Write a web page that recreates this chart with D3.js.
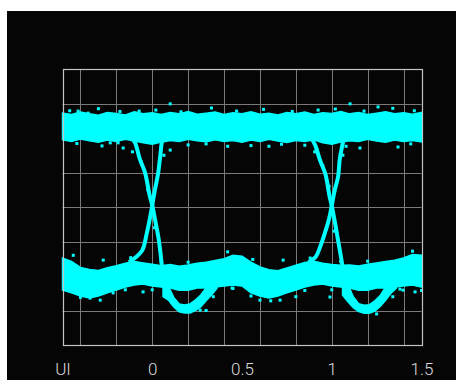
<!DOCTYPE html>
<html><head><meta charset="utf-8">
<script src="https://cdn.jsdelivr.net/npm/d3@7"></script>
<style>html,body{margin:0;padding:0;background:#fff;}svg{display:block;}</style>
</head><body>
<svg id="c" width="456" height="380"></svg>
<script>
// ---- data (UI on x, volts on y) ----
const tickValues = [-0.5, 0, 0.5, 1, 1.5];
const tickLabels = ["UI", "0", "0.5", "1", "1.5"];
const gridX = [-0.4, -0.2, 0, 0.2, 0.4, 0.6, 0.8, 1.0, 1.2, 1.4];
const gridY = [-0.3, -0.2, -0.1, 0, 0.1, 0.2, 0.3];

const bandX = [-0.5,-0.45,-0.4,-0.35,-0.3,-0.25,-0.2,-0.15,-0.1,-0.05,0,0.05,0.1,0.15,0.2,0.25,0.3,0.35,0.4,0.45,0.5,
               0.55,0.6,0.65,0.7,0.75,0.8,0.85,0.9,0.95,1.0,1.05,1.1,1.15,1.2,1.25,1.3,1.35,1.4,1.45,1.5];
const upperTop = [0.272,0.268,0.275,0.27,0.266,0.274,0.271,0.267,0.276,0.27,0.273,0.268,0.274,0.27,0.277,0.269,0.272,0.275,0.268,0.273,0.27,
                  0.276,0.269,0.272,0.267,0.274,0.27,0.275,0.268,0.273,0.271,0.277,0.27,0.274,0.268,0.272,0.276,0.27,0.273,0.269,0.274];
const upperBottom = [0.195,0.19,0.197,0.192,0.188,0.194,0.19,0.196,0.191,0.186,0.182,0.188,0.193,0.19,0.196,0.192,0.189,0.195,0.19,0.193,0.188,
                     0.194,0.19,0.196,0.191,0.187,0.193,0.19,0.195,0.186,0.182,0.188,0.192,0.19,0.196,0.191,0.188,0.194,0.19,0.193,0.189];
const lowerTop = [-0.148,-0.158,-0.175,-0.181,-0.184,-0.176,-0.17,-0.163,-0.158,-0.162,-0.166,-0.17,-0.167,-0.172,-0.168,-0.163,-0.16,-0.155,-0.15,-0.14,-0.143,
                  -0.16,-0.174,-0.182,-0.185,-0.177,-0.169,-0.161,-0.157,-0.163,-0.167,-0.169,-0.168,-0.171,-0.166,-0.162,-0.158,-0.154,-0.148,-0.138,-0.14];
const lowerBottom = [-0.241,-0.249,-0.258,-0.264,-0.258,-0.249,-0.241,-0.232,-0.226,-0.223,-0.229,-0.232,-0.235,-0.241,-0.241,-0.235,-0.235,-0.232,-0.229,-0.226,-0.229,
                     -0.249,-0.258,-0.264,-0.258,-0.249,-0.241,-0.232,-0.226,-0.223,-0.229,-0.232,-0.235,-0.241,-0.241,-0.235,-0.235,-0.232,-0.229,-0.226,-0.232];

const falling1 = [[-0.115,0.2],[-0.095,0.185],[-0.07,0.14],[-0.04,0.099],[-0.015,0.035],[0,0.005],[0.017,-0.04],[0.035,-0.09],[0.045,-0.13],[0.055,-0.175],[0.07,-0.22],[0.09,-0.255],[0.115,-0.28]];
const rising1  = [[-0.13,-0.16],[-0.09,-0.145],[-0.055,-0.125],[-0.03,-0.075],[-0.012,-0.03],[0,0.005],[0.015,0.05],[0.033,0.099],[0.045,0.15],[0.055,0.19],[0.07,0.205]];
const falling2 = [[0.885,0.2],[0.907,0.18],[0.935,0.135],[0.965,0.095],[0.988,0.03],[1.0,0.003],[1.018,-0.045],[1.035,-0.096],[1.05,-0.14],[1.065,-0.185],[1.085,-0.22],[1.105,-0.255],[1.125,-0.28]];
const rising2  = [[0.87,-0.16],[0.91,-0.145],[0.935,-0.116],[0.965,-0.07],[0.988,-0.028],[1.0,0.004],[1.017,0.05],[1.035,0.087],[1.045,0.14],[1.057,0.174],[1.07,0.205]];

const dip1X = [0.06,0.09,0.12,0.15,0.18,0.21,0.24,0.27,0.3,0.33,0.36];
const dip1Top = [-0.2,-0.23,-0.262,-0.281,-0.284,-0.281,-0.27,-0.255,-0.235,-0.215,-0.2];
const dip1Bottom = [-0.26,-0.27,-0.29,-0.304,-0.307,-0.307,-0.3,-0.29,-0.272,-0.255,-0.236];
const dip2X = [1.06,1.09,1.12,1.15,1.18,1.21,1.24,1.27,1.3,1.33,1.36];
const dip2Top = [-0.2,-0.228,-0.26,-0.28,-0.285,-0.283,-0.272,-0.257,-0.232,-0.212,-0.2];
const dip2Bottom = [-0.255,-0.275,-0.292,-0.303,-0.308,-0.308,-0.302,-0.288,-0.27,-0.25,-0.235];

const strayDots = [[0.1,0.299],[1.102,0.299],[1.258,0.29],[-0.073,0.278],[-0.413,0.278],[-0.357,0.272],[0.924,0.281],
  [-0.234,0.186],[-0.19,0.186],[-0.162,0.171],[0.1,0.165],[0.2,0.18],[1.157,0.171],[1.369,0.174],[1.28,0.194],[0.55,0.178],[0.65,0.176],
  [-0.273,-0.154],[-0.346,-0.264],[-0.29,-0.27],[-0.218,-0.249],[-0.051,-0.246],[0.25,-0.183],[0.267,-0.299],[0.389,-0.162],[0.445,-0.235],
  [0.729,-0.154],[0.712,-0.27],[0.99,-0.261],[1.397,-0.241],[1.464,-0.246],[1.419,-0.148],[0.6,-0.27],[0.8,-0.26],[1.25,-0.31],[0.3,-0.3],
  [-0.46,0.279],[-0.3,0.285],[-0.18,0.277],[0.02,0.281],[0.16,0.276],[0.33,0.287],[0.47,0.278],[0.62,0.283],[0.78,0.277],[1.02,0.284],[1.18,0.278],[1.34,0.286],[1.46,0.279],
  [-0.42,0.184],[-0.28,0.177],[0.3,0.183],[0.42,0.176],[0.72,0.182],[0.85,0.179],[1.08,0.176],[1.44,0.183],
  [-0.11,0.16],[-0.06,0.13],[0.065,0.15],[0.905,0.16],[0.95,0.12],[1.062,0.15],[-0.025,0.05],[0.012,-0.06],[0.985,0.06],[1.012,-0.07],
  [-0.44,-0.14],[-0.12,-0.147],[0.05,-0.156],[0.2,-0.16],[0.42,-0.13],[0.56,-0.152],[0.88,-0.148],[1.05,-0.158],[1.2,-0.157],[1.45,-0.128],
  [-0.4,-0.262],[-0.15,-0.24],[0.0,-0.24],[0.45,-0.236],[0.55,-0.258],[0.66,-0.272],[0.85,-0.242],[1.0,-0.24],[1.38,-0.238],[1.5,-0.242],
  [0.1,-0.2],[0.14,-0.21],[1.1,-0.2],[1.14,-0.215],[0.34,-0.26],[1.34,-0.26]];

// ---- drawing ----
const svg = d3.select("#c");
const x = d3.scaleLinear().domain([-0.5, 1.5]).range([62.5, 421.5]);
const y = d3.scaleLinear().domain([-0.4, 0.4]).range([345, 69]);
const CY = "#00ffff";

svg.append("rect").attr("x", 7).attr("y", 11).attr("width", 449).attr("height", 369).attr("fill", "#050505");

const g = svg.append("g");
g.selectAll("line.gx").data(gridX).join("line")
  .attr("x1", d => Math.round(x(d)) + 0.5).attr("x2", d => Math.round(x(d)) + 0.5)
  .attr("y1", y(0.4)).attr("y2", y(-0.4)).attr("stroke", "#7a7a7a").attr("stroke-width", 1);
g.selectAll("line.gy").data(gridY).join("line")
  .attr("y1", d => Math.round(y(d)) + 0.5).attr("y2", d => Math.round(y(d)) + 0.5)
  .attr("x1", x(-0.5)).attr("x2", x(1.5)).attr("stroke", "#7a7a7a").attr("stroke-width", 1);

const area = d3.area().x(d => x(d[0])).y0(d => y(d[1])).y1(d => y(d[2]));
const mk = (xs, a, b) => xs.map((v, i) => [v, a[i], b[i]]);
const dataG = svg.append("g");
[mk(bandX, upperTop, upperBottom), mk(bandX, lowerTop, lowerBottom), mk(dip1X, dip1Top, dip1Bottom), mk(dip2X, dip2Top, dip2Bottom)]
  .forEach(b => dataG.append("path").attr("d", area(b)).attr("fill", CY).attr("stroke", CY).attr("stroke-width", 1.5));

const line = d3.line().x(d => x(d[0])).y(d => y(d[1])).curve(d3.curveCatmullRom);
[falling1, rising1, falling2, rising2].forEach(t =>
  dataG.append("path").attr("d", line(t)).attr("fill", "none").attr("stroke", CY).attr("stroke-width", 4));

dataG.selectAll("rect.dot").data(strayDots).join("rect")
  .attr("x", d => x(d[0]) - 1.5).attr("y", d => y(d[1]) - 1.5).attr("width", 3).attr("height", 3).attr("fill", CY);

svg.append("rect").attr("x", Math.round(x(-0.5)) + 0.5).attr("y", Math.round(y(0.4)) + 0.5)
  .attr("width", Math.round(x(1.5)) - Math.round(x(-0.5))).attr("height", Math.round(y(-0.4)) - Math.round(y(0.4)))
  .attr("fill", "none").attr("stroke", "#c4c4c4").attr("stroke-width", 1.2);

const ax = svg.append("g").attr("transform", "translate(0,345)")
  .call(d3.axisBottom(x).tickValues(tickValues).tickSize(0).tickFormat((d, i) => tickLabels[i]));
ax.select(".domain").remove();
ax.selectAll("text").attr("y", 30).attr("dy", 0).attr("fill", "#dcdcdc")
  .style("font-family", "Roboto, 'DejaVu Sans', sans-serif").style("font-weight", 300).style("font-size", "17px");
</script>
</body></html>
